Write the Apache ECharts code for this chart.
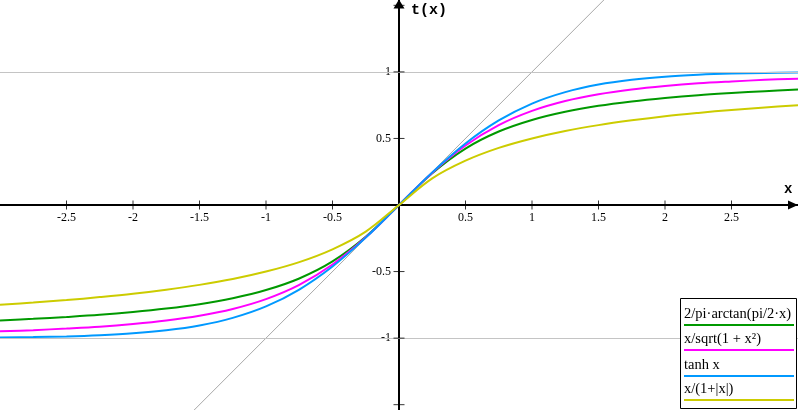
<!DOCTYPE html>
<html>
<head>
<meta charset="utf-8">
<script src="https://cdn.jsdelivr.net/npm/echarts@6/dist/echarts.min.js"></script>
<style>
  html, body { margin: 0; padding: 0; background: #fff; }
  #main { width: 798px; height: 410px; }
</style>
</head>
<body>
<div id="main"></div>
<script>
// sample points
var xValues = [-3, -2.75, -2.5, -2.25, -2, -1.75, -1.5, -1.25, -1, -0.75, -0.5, -0.25, 0,
  0.25, 0.5, 0.75, 1, 1.25, 1.5, 1.75, 2, 2.25, 2.5, 2.75, 3];
var arctanValues = [-0.867, -0.855, -0.841, -0.825, -0.804, -0.778, -0.745, -0.700, -0.639, -0.552, -0.424, -0.239, 0,
  0.239, 0.424, 0.552, 0.639, 0.700, 0.745, 0.778, 0.804, 0.825, 0.841, 0.855, 0.867];
var sqrtValues = [-0.949, -0.940, -0.928, -0.914, -0.894, -0.868, -0.832, -0.781, -0.707, -0.600, -0.447, -0.243, 0,
  0.243, 0.447, 0.600, 0.707, 0.781, 0.832, 0.868, 0.894, 0.914, 0.928, 0.940, 0.949];
var tanhValues = [-0.995, -0.992, -0.987, -0.978, -0.964, -0.941, -0.905, -0.848, -0.762, -0.635, -0.462, -0.245, 0,
  0.245, 0.462, 0.635, 0.762, 0.848, 0.905, 0.941, 0.964, 0.978, 0.987, 0.992, 0.995];
var absValues = [-0.750, -0.733, -0.714, -0.692, -0.667, -0.636, -0.600, -0.556, -0.500, -0.429, -0.333, -0.200, 0,
  0.200, 0.333, 0.429, 0.500, 0.556, 0.600, 0.636, 0.667, 0.692, 0.714, 0.733, 0.750];
var diagonal = [[-3, -3], [3, 3]];
var gridLevels = [1, -1];

var seriesNames = ['2/pi\u00b7arctan(pi/2\u00b7x)', 'x/sqrt(1 + x\u00b2)', 'tanh x', 'x/(1+|x|)'];
var seriesColors = ['#009900', '#ff00ff', '#0099ff', '#cccc00'];
var seriesValues = [arctanValues, sqrtValues, tanhValues, absValues];

var xTickLabels = [-2.5, -2, -1.5, -1, -0.5, 0.5, 1, 1.5, 2, 2.5];
var yTickLabels = [-1, -0.5, 0.5, 1];
var yTicks = [-1.5, -1, -0.5, 0.5, 1, 1.5];

var labelFont = { color: '#000', fontFamily: 'Liberation Serif', fontSize: 12 };

function pairs(values) {
    return xValues.map(function (x, i) { return [x, values[i]]; });
}

var myChart = echarts.init(document.getElementById('main'));

var series = [{
    type: 'line',
    data: diagonal,
    symbol: 'none',
    silent: true,
    lineStyle: { color: '#a8a8a8', width: 1 },
    markLine: {
        silent: true,
        symbol: 'none',
        label: { show: false },
        lineStyle: { color: '#c4c4c4', width: 1, type: 'solid' },
        data: gridLevels.map(function (v) { return { yAxis: v }; })
    },
    z: 1
}];
seriesNames.forEach(function (name, i) {
    series.push({
        name: name,
        type: 'line',
        data: pairs(seriesValues[i]),
        smooth: 0.35,
        symbol: 'none',
        lineStyle: { color: seriesColors[i], width: 2 },
        itemStyle: { color: seriesColors[i] },
        z: 2 + i
    });
});
// tick marks crossing the axes
series.push({
    type: 'scatter',
    silent: true,
    symbol: 'rect',
    symbolSize: [1, 9],
    itemStyle: { color: '#000' },
    data: xTickLabels.map(function (x) { return [x, 0]; }),
    z: 10
});
series.push({
    type: 'scatter',
    silent: true,
    symbol: 'rect',
    symbolSize: [11, 1],
    itemStyle: { color: '#000' },
    data: yTicks.map(function (y) { return [0, y]; }),
    z: 10
});

// legend box drawn by hand: text with a coloured underline
var legendItems = [{
    type: 'rect',
    shape: { x: 680.5, y: 298.5, width: 116, height: 110 },
    style: { fill: '#fff', stroke: '#000', lineWidth: 1 },
    z: 100
}];
var underlineY = [324, 349, 375, 399];
seriesNames.forEach(function (name, i) {
    legendItems.push({
        type: 'text',
        x: 684,
        y: underlineY[i] - 2,
        style: {
            text: name,
            fill: '#000',
            fontFamily: 'Liberation Serif',
            fontSize: 14.5,
            textVerticalAlign: 'bottom'
        },
        z: 101
    });
    legendItems.push({
        type: 'rect',
        shape: { x: 684, y: underlineY[i], width: 110, height: 2 },
        style: { fill: seriesColors[i] },
        z: 101
    });
});
legendItems.push({
    type: 'text', x: 784, y: 182,
    style: { text: 'x', fill: '#000', fontFamily: 'Liberation Mono', fontWeight: 'bold', fontSize: 14 }, z: 101
});
legendItems.push({
    type: 'text', x: 411, y: 3,
    style: { text: 't(x)', fill: '#000', fontFamily: 'Liberation Mono', fontWeight: 'bold', fontSize: 15 }, z: 101
});

var axisLineStyle = { color: '#000', width: 2 };

function pickLabel(list) {
    return function (v) {
        for (var i = 0; i < list.length; i++) {
            if (Math.abs(list[i] - v) < 1e-6) return String(list[i]);
        }
        return '';
    };
}

var option = {
    animation: false,
    grid: { left: 0, right: 0, top: 0, bottom: 0, outerBoundsMode: 'none' },
    xAxis: {
        type: 'value',
        min: -3,
        max: 3,
        interval: 0.5,
        position: 'bottom',
        offset: -205,
        axisLine: { onZero: false, lineStyle: axisLineStyle, symbol: ['none', 'triangle'], symbolSize: [9, 10], symbolOffset: [0, -5] },
        axisTick: { show: false },
        axisLabel: Object.assign({ margin: 7, formatter: pickLabel(xTickLabels) }, labelFont),
        splitLine: { show: false }
    },
    yAxis: {
        type: 'value',
        min: -1.54,
        max: 1.54,
        splitNumber: 6,
        position: 'left',
        offset: -399,
        axisLine: { onZero: false, lineStyle: axisLineStyle, symbol: ['none', 'triangle'], symbolSize: [11, 9], symbolOffset: [0, -4] },
        axisTick: { show: false },
        axisLabel: Object.assign({ margin: 8, formatter: pickLabel(yTickLabels) }, labelFont),
        splitLine: { show: false }
    },
    series: series,
    graphic: legendItems
};
myChart.setOption(option);
</script>
</body>
</html>
